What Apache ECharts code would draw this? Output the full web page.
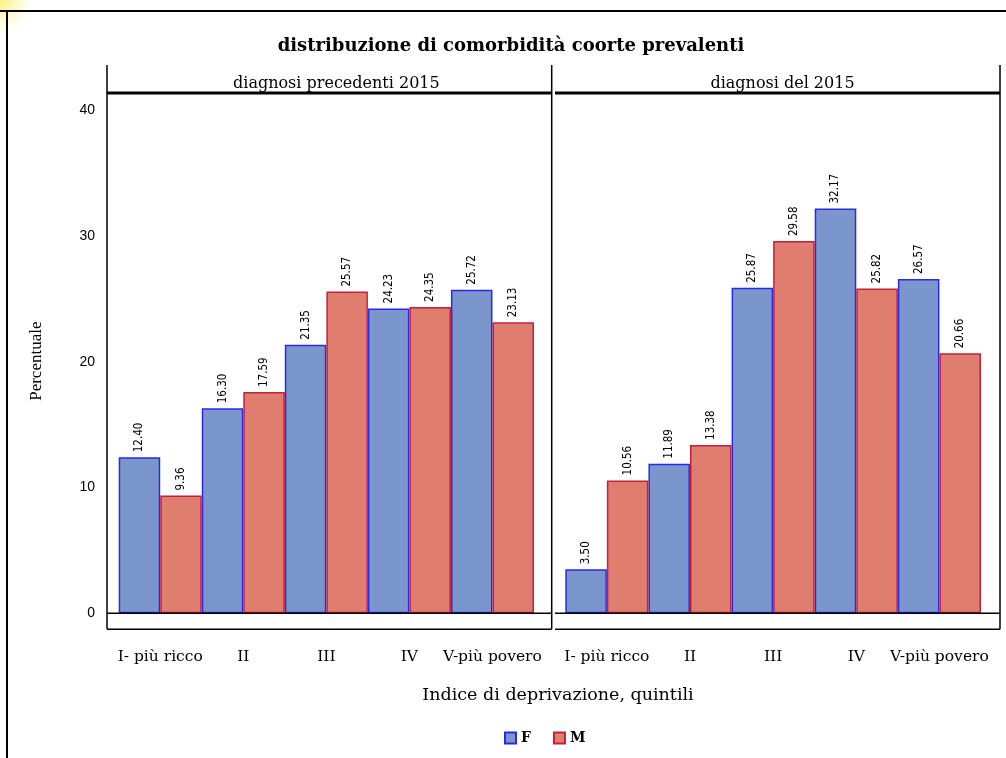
<!DOCTYPE html>
<html>
<head>
<meta charset="utf-8">
<script src="https://cdn.jsdelivr.net/npm/echarts@6/dist/echarts.min.js"></script>
<style>html,body{margin:0;padding:0;background:#fff;}#c{width:1006px;height:758px;}</style>
</head>
<body>
<div id="c"></div>
<script>
// ---- data ----
const categories = ['I- più ricco', 'II', 'III', 'IV', 'V-più povero'];
const panelTitles = ['diagnosi precedenti 2015', 'diagnosi del 2015'];
const seriesNames = ['F', 'M'];
const fPrecedenti = [12.40, 16.30, 21.35, 24.23, 25.72];
const mPrecedenti = [9.36, 17.59, 25.57, 24.35, 23.13];
const f2015 = [3.50, 11.89, 25.87, 32.17, 26.57];
const m2015 = [10.56, 13.38, 29.58, 25.82, 20.66];
const yTicks = [0, 10, 20, 30, 40];

// ---- layout / style ----
const serif = '"Liberation Serif", "DejaVu Serif", serif';
const wideSerif = '"DejaVu Serif", "Liberation Serif", serif';
const narrow = '"Liberation Sans Narrow", "DejaVu Sans Condensed", "Liberation Sans", sans-serif';
const plotTop = 93, plotBottom = 629.3;
const frames = [{x0: 107, x1: 551.7, leftLine: true}, {x0: 555, x1: 1000, leftLine: false}];
const barAreas = [{x0: 118.7, x1: 534}, {x0: 565.3, x1: 981}];
const headerTop = 65;
const blue = {color: '#7B96CC', borderColor: '#2A2AE6', borderWidth: 1.5};
const red = {color: '#DF7D6E', borderColor: '#C2203C', borderWidth: 1.5};

const chart = echarts.init(document.getElementById('c'), null, {renderer: 'canvas'});

function labelCfg() {
  return {
    show: true, position: 'top', rotate: 90, align: 'left', verticalAlign: 'middle',
    distance: 5, fontFamily: narrow, fontSize: 11.5, color: '#000',
    formatter: p => p.value.toFixed(2)
  };
}

const grids = barAreas.map(a => ({left: a.x0, width: a.x1 - a.x0, top: plotTop, height: plotBottom - plotTop, containLabel: false}));
const xAxes = barAreas.map((a, i) => ({
  type: 'category', gridIndex: i, data: categories,
  axisLine: {show: false}, axisTick: {show: false},
  axisLabel: {margin: 20, fontFamily: wideSerif, fontSize: 15.5, color: '#000', interval: 0}
}));
const yAxes = barAreas.map((a, i) => ({
  type: 'value', gridIndex: i, min: -1.27, max: 41.35,
  offset: a.x0 - frames[i].x0,
  axisLine: {show: false}, axisTick: {show: false}, splitLine: {show: false},
  axisLabel: i === 0 ? {show: true, customValues: yTicks, margin: 12, fontFamily: '"Liberation Sans", sans-serif', fontSize: 14, color: '#000'} : {show: false},
  name: i === 0 ? 'Percentuale' : '', nameLocation: 'middle', nameRotate: 90, nameGap: 62,
  nameTextStyle: {fontFamily: serif, fontSize: 17, color: '#000'}
}));
const data = [[fPrecedenti, mPrecedenti], [f2015, m2015]];
const series = [];
data.forEach((pair, i) => {
  pair.forEach((vals, j) => {
    series.push({
      type: 'bar', name: seriesNames[j], xAxisIndex: i, yAxisIndex: i, data: vals,
      barGap: '0%', barCategoryGap: '0%',
      itemStyle: j === 0 ? blue : red,
      label: labelCfg(), emphasis: {disabled: true}
    });
  });
});

chart.setOption({
  animation: false,
  backgroundColor: '#fff',
  title: [
    {text: 'distribuzione di comorbidità coorte prevalenti', left: 506, top: 32, textAlign: 'center',
     textStyle: {fontFamily: wideSerif, fontSize: 18, fontWeight: 'bold', color: '#000'}},
    {text: panelTitles[0], left: (frames[0].x0 + frames[0].x1) / 2 + 2, top: 71, textAlign: 'center',
     textStyle: {fontFamily: wideSerif, fontSize: 16, fontWeight: 'normal', color: '#000'}},
    {text: panelTitles[1], left: (frames[1].x0 + frames[1].x1) / 2, top: 71, textAlign: 'center',
     textStyle: {fontFamily: wideSerif, fontSize: 16, fontWeight: 'normal', color: '#000'}},
    {text: 'Indice di deprivazione, quintili', left: 553, top: 681, textAlign: 'center',
     textStyle: {fontFamily: wideSerif, fontSize: 17.5, fontWeight: 'normal', color: '#000'}}
  ],
  legend: {
    data: seriesNames, left: 499, top: 726, itemWidth: 11, itemHeight: 11, itemGap: 22,
    icon: 'rect', textStyle: {fontFamily: wideSerif, fontSize: 14, fontWeight: 'bold', color: '#000'},
    selectedMode: false
  },
  grid: grids, xAxis: xAxes, yAxis: yAxes, series: series
});

// frame lines, placed with the library's own scale for the zero line
const y0 = chart.convertToPixel({yAxisIndex: 0}, 0);
const line = (x1, y1, x2, y2, w) => ({type: 'line', shape: {x1, y1, x2, y2}, style: {stroke: '#000', lineWidth: w}, z: 100, silent: true});
const g = [];
g.push({type: 'circle', shape: {cx: 0, cy: 0, r: 34}, style: {fill: new echarts.graphic.RadialGradient(0.5, 0.5, 0.5, [{offset: 0, color: 'rgba(255,238,110,0.95)'}, {offset: 1, color: 'rgba(255,245,170,0)'}])}, z: 0, silent: true});
g.push(line(0, 11, 1006, 11, 2));
g.push(line(7, 11, 7, 758, 2));
frames.forEach(f => {
  if (f.leftLine) g.push(line(f.x0, headerTop, f.x0, plotBottom, 1.5));
  g.push(line(f.x1, headerTop, f.x1, plotBottom, 1.5));
  g.push(line(f.x0, plotTop, f.x1, plotTop, 3));
  g.push(line(f.x0, plotBottom, f.x1, plotBottom, 1.5));
  g.push(line(f.x0, y0, f.x1, y0, 1.5));
});
chart.setOption({graphic: g});
</script>
</body>
</html>
